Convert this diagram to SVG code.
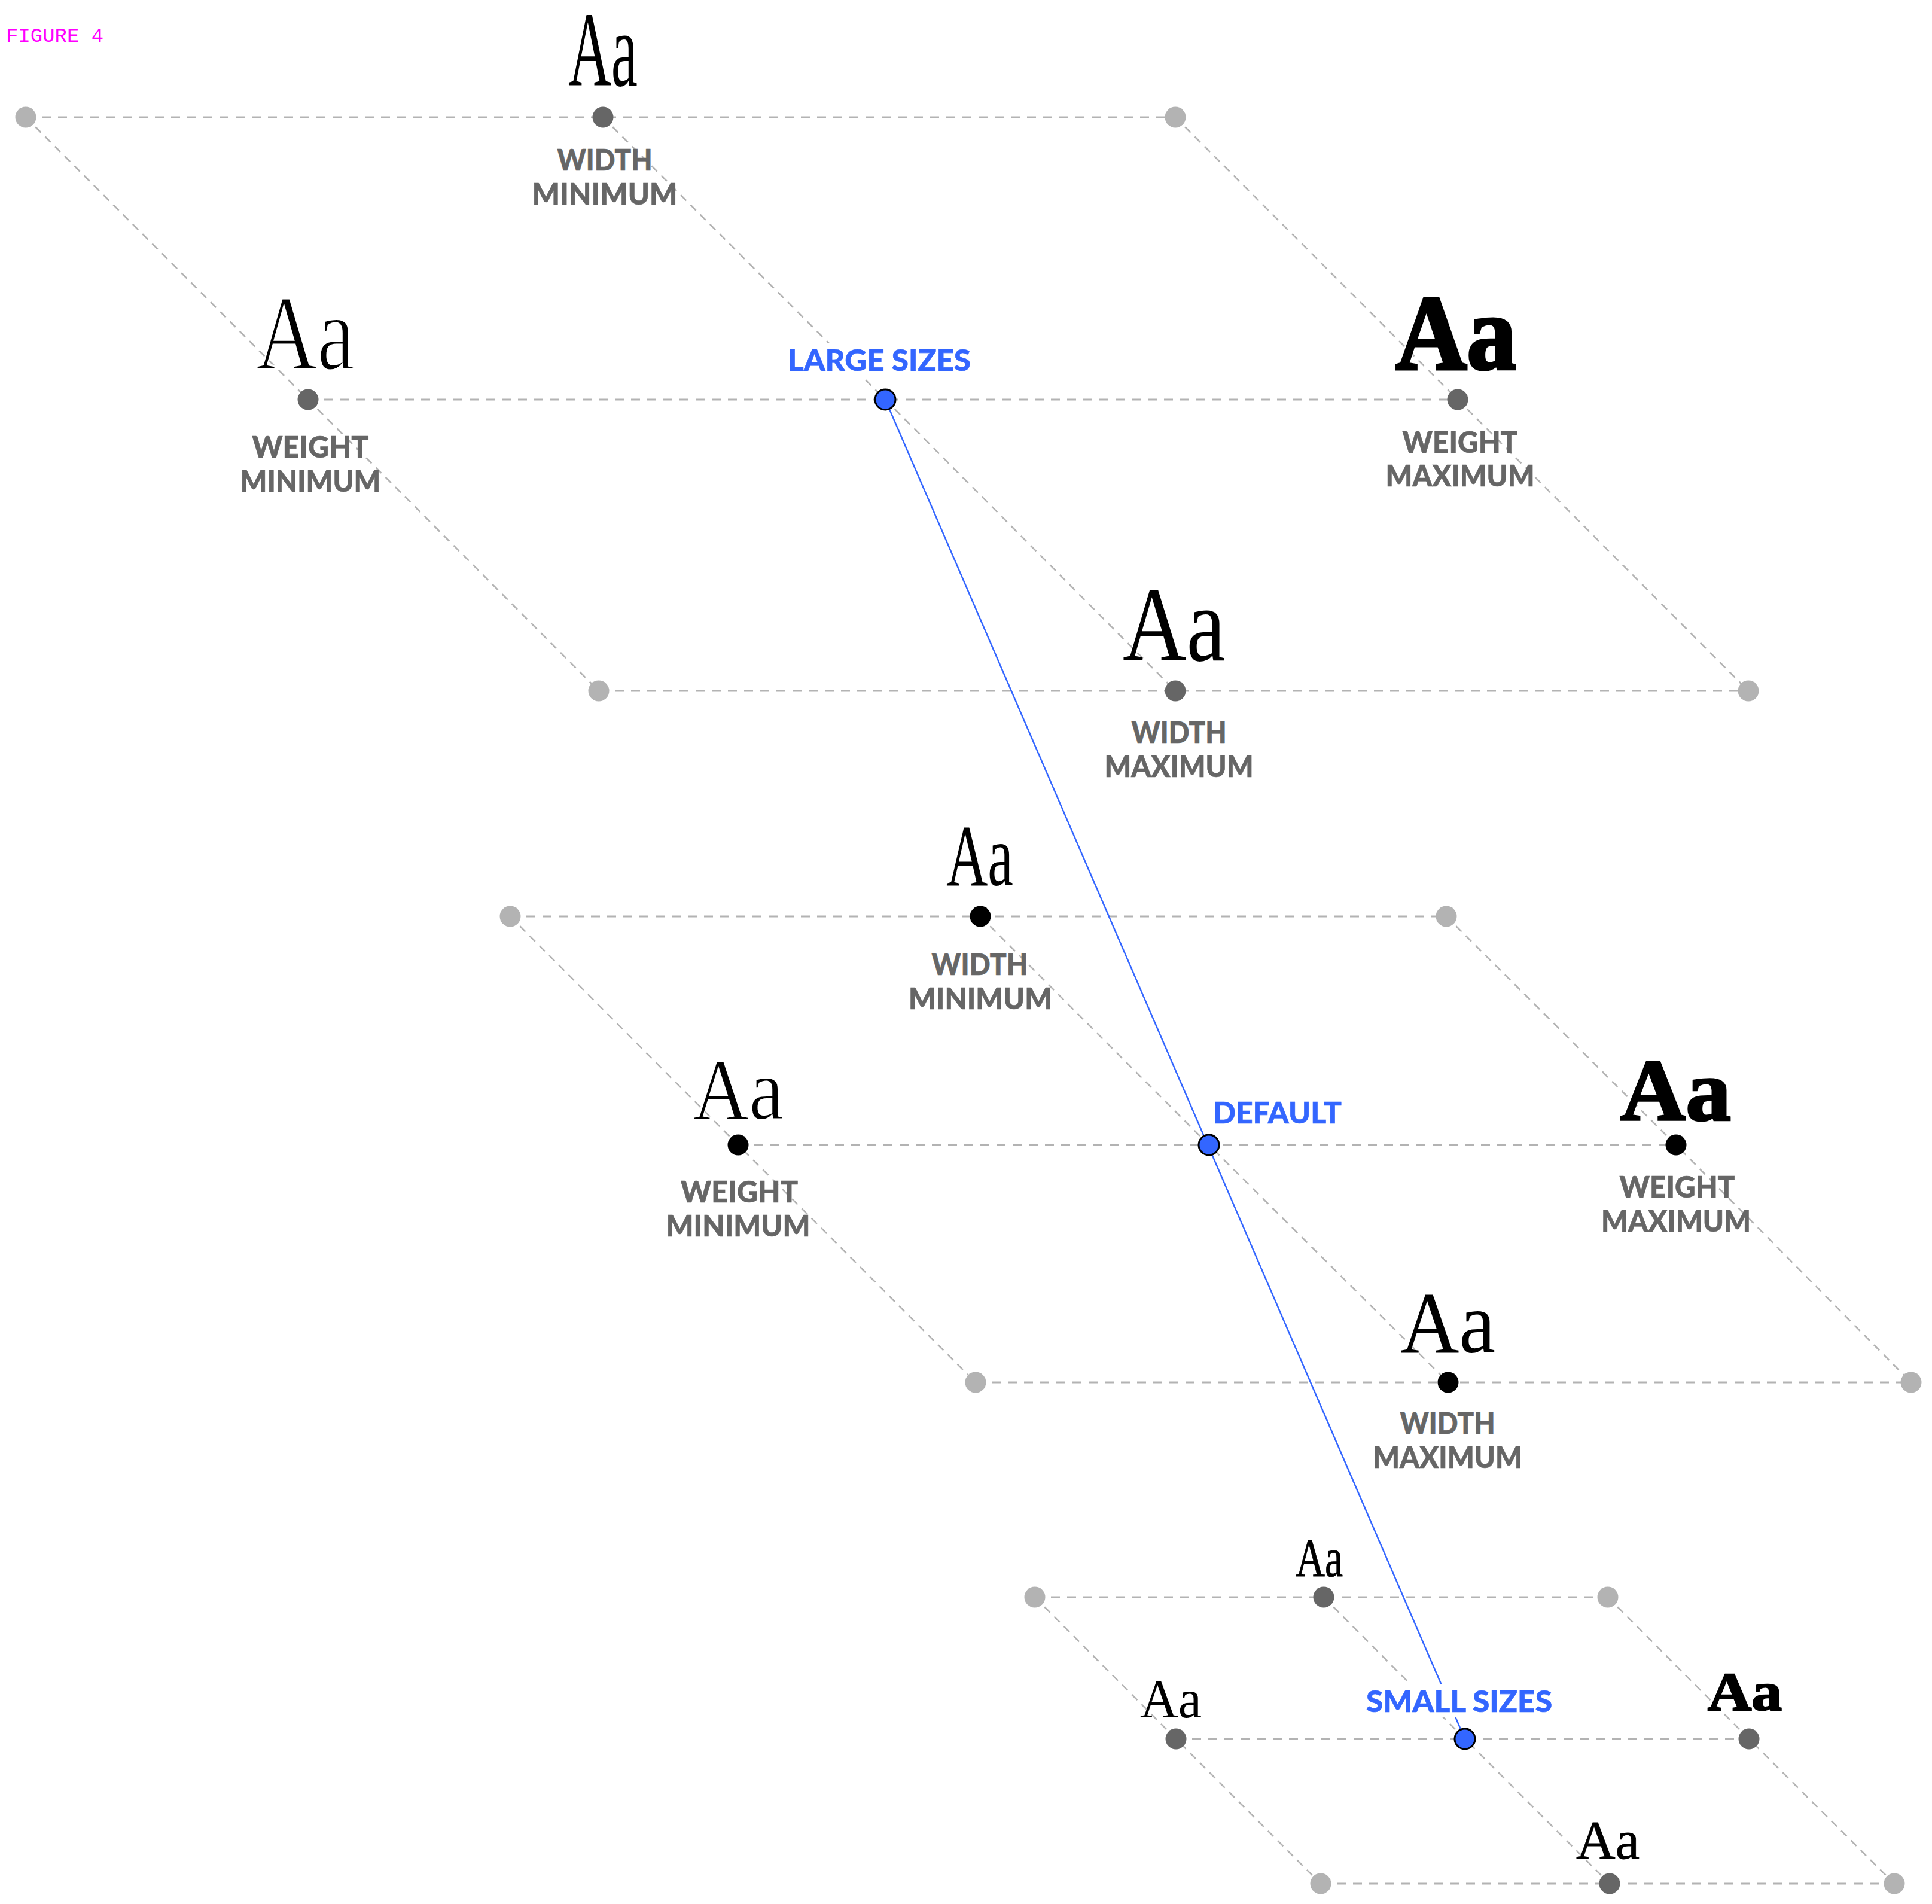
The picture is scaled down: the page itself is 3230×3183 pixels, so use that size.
<svg xmlns="http://www.w3.org/2000/svg" width="3230" height="3183" viewBox="0 0 3230 3183">
<style>
.h{fill:none;stroke:#b3b3b3;stroke-width:3.2;stroke-dasharray:15 12}
.d{fill:none;stroke:#b3b3b3;stroke-width:2.6;stroke-dasharray:13 10}
.blue{fill:none;stroke:#3366ff;stroke-width:2.5}
.c{fill:#b3b3b3}
.g{fill:#666666}
.k{fill:#000000}
.b{fill:#3366ff;stroke:#000;stroke-width:3}
.lbl{font-family:Lato,"Liberation Sans",sans-serif;font-weight:900;font-size:49px;fill:#666666;stroke:#666666;stroke-width:0.6;text-anchor:middle}
.blbl{font-family:Lato,"Liberation Sans",sans-serif;font-weight:900;font-size:50px;fill:#3366ff;stroke:#3366ff;stroke-width:0.6}
.aa{font-family:"Liberation Serif","DejaVu Serif",serif;fill:#000}
.thin{stroke:#fff;paint-order:normal}
.aaB{font-family:"Liberation Serif","DejaVu Serif",serif;font-weight:700;fill:#000;stroke:#000}
.L{font-size:178px}
.M{font-size:147px}
.S{font-size:92px}
.fig{font-family:"Liberation Mono",monospace;font-size:34px;fill:#ff00ff}
</style>
<rect width="3230" height="3183" fill="#fff"/>
<text class="fig" x="10" y="70">FIGURE 4</text>

<g id="connectors">
  <!-- large sizes -->
  <polyline class="h" points="43,196 1008,196 1965,196"/>
  <polyline class="h" points="515,668 1480,668 2437,668"/>
  <polyline class="h" points="1001,1155 1965,1155 2923,1155"/>
  <polyline class="d" points="43,196 515,668 1001,1155"/>
  <polyline class="d" points="1008,196 1480,668 1965,1155"/>
  <polyline class="d" points="1965,196 2437,668 2923,1155"/>
  <!-- default -->
  <polyline class="h" points="853,1532 1639,1532 2418,1532"/>
  <polyline class="h" points="1234,1914 2021,1914 2802,1914"/>
  <polyline class="h" points="1631,2311 2421,2311 3195,2311"/>
  <polyline class="d" points="853,1532 1234,1914 1631,2311"/>
  <polyline class="d" points="1639,1532 2021,1914 2421,2311"/>
  <polyline class="d" points="2418,1532 2802,1914 3195,2311"/>
  <!-- small sizes -->
  <polyline class="h" points="1730,2670 2213,2670 2688,2670"/>
  <polyline class="h" points="1966,2907 2449,2907 2924,2907"/>
  <polyline class="h" points="2208,3149 2691,3149 3167,3149"/>
  <polyline class="d" points="1730,2670 1966,2907 2208,3149"/>
  <polyline class="d" points="2213,2670 2449,2907 2691,3149"/>
  <polyline class="d" points="2688,2670 2924,2907 3167,3149"/>
  <!-- optical size axis -->
  <line class="blue" x1="1480" y1="668" x2="2449" y2="2907"/>
</g>

<!-- LARGE SIZES diagram -->
<g id="large-corner-tl"><circle class="c" cx="43" cy="196" r="17.5"/></g>
<g id="large-corner-tr"><circle class="c" cx="1965" cy="196" r="17.5"/></g>
<g id="large-corner-bl"><circle class="c" cx="1001" cy="1155" r="17.5"/></g>
<g id="large-corner-br"><circle class="c" cx="2923" cy="1155" r="17.5"/></g>
<g id="large-width-min">
  <circle class="g" cx="1008" cy="196" r="17.5"/>
  <text class="aa L" x="950" y="143" textLength="116" lengthAdjust="spacingAndGlyphs">Aa</text>
  <text class="lbl" x="1011" y="285" textLength="159" lengthAdjust="spacingAndGlyphs">WIDTH</text>
  <text class="lbl" x="1011" y="342" textLength="243" lengthAdjust="spacingAndGlyphs">MINIMUM</text>
</g>
<g id="large-weight-min">
  <circle class="g" cx="515" cy="668" r="17.5"/>
  <text class="aa thin L" x="428" y="617" stroke-width="3" textLength="165" lengthAdjust="spacingAndGlyphs">Aa</text>
  <text class="lbl" x="519" y="765" textLength="195" lengthAdjust="spacingAndGlyphs">WEIGHT</text>
  <text class="lbl" x="519" y="822" textLength="235" lengthAdjust="spacingAndGlyphs">MINIMUM</text>
</g>
<g id="large-weight-max">
  <circle class="g" cx="2437" cy="668" r="17.5"/>
  <text class="aaB L" x="2333" y="617" stroke-width="5" textLength="202" lengthAdjust="spacingAndGlyphs">Aa</text>
  <text class="lbl" x="2441" y="757" textLength="193" lengthAdjust="spacingAndGlyphs">WEIGHT</text>
  <text class="lbl" x="2441" y="813" textLength="249" lengthAdjust="spacingAndGlyphs">MAXIMUM</text>
</g>
<g id="large-width-max">
  <circle class="g" cx="1965" cy="1155" r="17.5"/>
  <text class="aa L" x="1877" y="1104" textLength="172" lengthAdjust="spacingAndGlyphs">Aa</text>
  <text class="lbl" x="1971" y="1242" textLength="159" lengthAdjust="spacingAndGlyphs">WIDTH</text>
  <text class="lbl" x="1971" y="1299" textLength="249" lengthAdjust="spacingAndGlyphs">MAXIMUM</text>
</g>
<g id="large-sizes">
  <rect x="1305" y="573" width="330" height="56" fill="#fff"/>
  <text class="blbl" x="1317" y="620" textLength="306" lengthAdjust="spacingAndGlyphs">LARGE SIZES</text>
  <circle class="b" cx="1480" cy="668" r="17"/>
</g>

<!-- DEFAULT diagram -->
<g id="default-corner-tl"><circle class="c" cx="853" cy="1532" r="17.5"/></g>
<g id="default-corner-tr"><circle class="c" cx="2418" cy="1532" r="17.5"/></g>
<g id="default-corner-bl"><circle class="c" cx="1631" cy="2311" r="17.5"/></g>
<g id="default-corner-br"><circle class="c" cx="3195" cy="2311" r="17.5"/></g>
<g id="default-width-min">
  <circle class="k" cx="1639" cy="1532" r="17.5"/>
  <text class="aa M" x="1582" y="1480" textLength="112" lengthAdjust="spacingAndGlyphs">Aa</text>
  <text class="lbl" x="1638" y="1630" textLength="161" lengthAdjust="spacingAndGlyphs">WIDTH</text>
  <text class="lbl" x="1639" y="1687" textLength="240" lengthAdjust="spacingAndGlyphs">MINIMUM</text>
</g>
<g id="default-weight-min">
  <circle class="k" cx="1234" cy="1914" r="17.5"/>
  <text class="aa thin M" x="1158" y="1871" stroke-width="2" textLength="152" lengthAdjust="spacingAndGlyphs">Aa</text>
  <text class="lbl" x="1236" y="2010" textLength="196" lengthAdjust="spacingAndGlyphs">WEIGHT</text>
  <text class="lbl" x="1234" y="2067" textLength="241" lengthAdjust="spacingAndGlyphs">MINIMUM</text>
</g>
<g id="default-weight-max">
  <circle class="k" cx="2802" cy="1914" r="17.5"/>
  <text class="aaB M" x="2709" y="1872" stroke-width="3.5" textLength="185" lengthAdjust="spacingAndGlyphs">Aa</text>
  <text class="lbl" x="2804" y="2002" textLength="193" lengthAdjust="spacingAndGlyphs">WEIGHT</text>
  <text class="lbl" x="2802" y="2059" textLength="250" lengthAdjust="spacingAndGlyphs">MAXIMUM</text>
</g>
<g id="default-width-max">
  <circle class="k" cx="2421" cy="2311" r="17.5"/>
  <text class="aa M" x="2341" y="2261" textLength="159" lengthAdjust="spacingAndGlyphs">Aa</text>
  <text class="lbl" x="2420" y="2397" textLength="159" lengthAdjust="spacingAndGlyphs">WIDTH</text>
  <text class="lbl" x="2420" y="2454" textLength="250" lengthAdjust="spacingAndGlyphs">MAXIMUM</text>
</g>
<g id="default">
  <text class="blbl" x="2028" y="1878" textLength="215" lengthAdjust="spacingAndGlyphs">DEFAULT</text>
  <circle class="b" cx="2021" cy="1914" r="17"/>
</g>

<!-- SMALL SIZES diagram -->
<g id="small-corner-tl"><circle class="c" cx="1730" cy="2670" r="17.5"/></g>
<g id="small-corner-tr"><circle class="c" cx="2688" cy="2670" r="17.5"/></g>
<g id="small-corner-bl"><circle class="c" cx="2208" cy="3149" r="17.5"/></g>
<g id="small-corner-br"><circle class="c" cx="3167" cy="3149" r="17.5"/></g>
<g id="small-width-min">
  <circle class="g" cx="2213" cy="2670" r="17.5"/>
  <text class="aa S" x="2166" y="2635" stroke="#000" stroke-width="1" textLength="79" lengthAdjust="spacingAndGlyphs">Aa</text>
</g>
<g id="small-weight-min">
  <circle class="g" cx="1966" cy="2907" r="17.5"/>
  <text class="aa S" x="1906" y="2871" textLength="103" lengthAdjust="spacingAndGlyphs">Aa</text>
</g>
<g id="small-weight-max">
  <circle class="g" cx="2924" cy="2907" r="17.5"/>
  <text class="aaB S" x="2855" y="2859" stroke-width="2.5" textLength="124" lengthAdjust="spacingAndGlyphs">Aa</text>
</g>
<g id="small-width-max">
  <circle class="g" cx="2691" cy="3149" r="17.5"/>
  <text class="aa S" x="2635" y="3107" stroke="#000" stroke-width="0.8" textLength="106" lengthAdjust="spacingAndGlyphs">Aa</text>
</g>
<g id="small-sizes">
  <rect x="2272" y="2816" width="335" height="55" fill="#fff"/>
  <text class="blbl" x="2284" y="2862" textLength="311" lengthAdjust="spacingAndGlyphs">SMALL SIZES</text>
  <circle class="b" cx="2449" cy="2907" r="17"/>
</g>
</svg>
